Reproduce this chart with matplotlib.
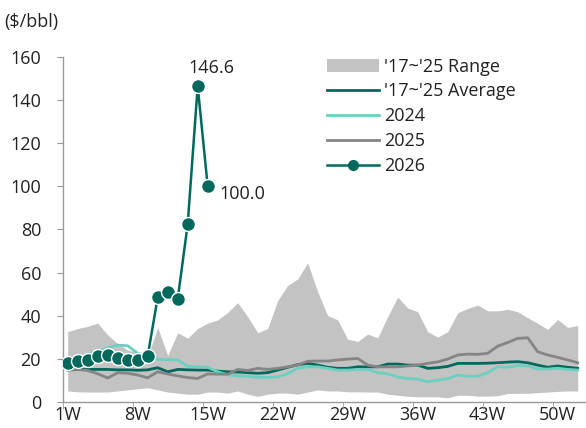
import numpy as np
import matplotlib.pyplot as plt
from matplotlib.lines import Line2D
from matplotlib.patches import Patch

plt.rcParams['font.family'] = ['Open Sans', 'DejaVu Sans']

# --- Data (weekly, $/bbl) ---
weeks = np.arange(1, 53)
tick_weeks = [1, 8, 15, 22, 29, 36, 43, 50]
tick_labels = [f"{w}W" for w in tick_weeks]

range_hi = [32.5, 34, 35, 36.5, 31, 27, 24, 23, 21, 34.5,
            21.5, 32, 29.5, 34, 36.5, 38, 41.5, 46, 39.5, 32,
            34, 47, 54, 57, 64.5, 51, 40, 38, 29, 28,
            31.4, 29.7, 39.5, 48.6, 43.5, 41.8, 32.5, 30, 32.5, 41.3,
            43.3, 44.9, 42.2, 42.2, 42.9, 41.8, 39, 36.4, 33.6, 38.2,
            34.5, 35.4]
range_lo = [5, 4.6, 4.5, 4.5, 4.5, 5, 5.5, 6, 6.5, 5.5,
            4.5, 4, 3.5, 3.5, 4.5, 4.5, 4, 5, 3.5, 2.5,
            3.5, 4, 4, 3.5, 4.5, 5.5, 5, 5, 4.6, 4.6,
            4.5, 4.5, 3.5, 3, 2.5, 2.3, 2.3, 2.3, 1.8, 3,
            3, 2.6, 2.6, 2.8, 3.8, 3.9, 3.9, 4.2, 4.5, 4.8,
            5, 5]
avg_1725 = [14.7, 15, 15, 15, 15, 14.8, 14.8, 14.6, 14.8, 15.8,
            13.9, 15, 14.8, 14.7, 14.7, 14.2, 13.9, 13.8, 13.5, 13.2,
            13.5, 14.7, 16, 17.2, 17.8, 17, 16, 15.5, 15.5, 16.2,
            16.2, 16.2, 17.5, 17.5, 17, 17, 15.5, 15.8, 16.4, 17.8,
            17.8, 17.8, 17.9, 18.1, 18.4, 18.6, 18.1, 17, 16, 16.6,
            16, 15.5]
y2024 = [18, 20, 22, 23.5, 25, 26.3, 26, 22.5, 21, 19.7,
         19.5, 19.4, 16.5, 16.2, 16, 13.9, 12.5, 12, 11.8, 11.3,
         11.3, 11.5, 13, 15.5, 16.2, 16.2, 15.5, 14.7, 14.7, 15,
         15, 13.5, 13, 11.5, 10.8, 10.5, 9.3, 10, 10.7, 12.4,
         11.8, 11.8, 13.5, 16.2, 16, 16.8, 16.6, 15.2, 15.2, 15.5,
         15, 14.7]
y2025 = [15, 15, 14.5, 13, 11, 13.5, 13.2, 12.4, 11.1, 13.9,
         12.9, 12, 11.2, 10.8, 12.9, 12.8, 12.8, 15, 14.5, 15.5,
         15, 15.5, 16.2, 17, 18.8, 18.9, 18.9, 19.4, 19.8, 20.1,
         17, 16.2, 16.2, 16.2, 16.6, 17, 17.8, 18.5, 19.8, 21.7,
         22.1, 22, 22.5, 25.8, 27.5, 29.4, 29.7, 23.2, 21.7, 20.6,
         19.4, 18.1]
y2026 = [18.1, 19.0, 19.2, 21.2, 21.7, 20.4, 19.4, 19.4, 21.2, 48.4,
         51.0, 47.6, 82.4, 146.6, 100.0]

c_dark = "#00695C"
c_teal = "#6CCFC0"
c_gray = "#858585"
c_range = "#C3C3C3"
c_text = "#222222"
fs = 13

fig = plt.figure(figsize=(5.86, 4.28), dpi=100)
ax = fig.add_axes([0.108, 0.0614, 0.892, 0.805])

ax.fill_between(weeks, range_lo, range_hi, color=c_range, lw=0, zorder=1)
ax.plot(weeks, avg_1725, color=c_dark, lw=2.0, zorder=2)
ax.plot(weeks, y2024, color=c_teal, lw=2.0, zorder=3)
ax.plot(weeks, y2025, color=c_gray, lw=2.0, zorder=4)
w26 = weeks[:len(y2026)]
ax.plot(w26, y2026, color=c_dark, lw=1.8, marker="o", markersize=10,
        markerfacecolor=c_dark, markeredgecolor="white", markeredgewidth=1.0,
        zorder=5)

ax.annotate("146.6", (w26[13], y2026[13]), xytext=(14, 18),
            textcoords="offset pixels", ha="center", va="center",
            fontsize=fs, color=c_text)
ax.annotate("100.0", (w26[14], y2026[14]), xytext=(12, -8),
            textcoords="offset pixels", ha="left", va="center",
            fontsize=fs, color=c_text)

# --- Axes styling ---
ax.set_xlim(0.56, 52.83)
ax.set_ylim(0, 160)
ax.set_yticks(np.arange(0, 161, 20))
ax.set_xticks(tick_weeks)
ax.set_xticklabels(tick_labels)
ax.set_xticks([0.56] + [7 * k + 0.5 for k in range(1, 8)], minor=True)
ax.tick_params(axis="x", which="major", length=0, pad=3, labelsize=fs, colors=c_text)
ax.tick_params(axis="x", which="minor", length=5, color="#999999")
ax.tick_params(axis="y", length=4, pad=12, labelsize=fs, colors=c_text, color="#999999")
for side in ("top", "right"):
    ax.spines[side].set_visible(False)
for side in ("left", "bottom"):
    ax.spines[side].set_color("#999999")
    ax.spines[side].set_linewidth(1.0)

fig.text(0.008, 0.948, "($/bbl)", fontsize=fs, color=c_text, ha="left", va="center")

handles = [
    Patch(facecolor=c_range, edgecolor="none"),
    Line2D([], [], color=c_dark, lw=2.0),
    Line2D([], [], color=c_teal, lw=2.0),
    Line2D([], [], color=c_gray, lw=2.0),
    Line2D([], [], color=c_dark, lw=1.8, marker="o", markersize=7,
           markerfacecolor=c_dark, markeredgecolor=c_dark),
]
labels = ["'17~'25 Range", "'17~'25 Average", "2024", "2025", "2026"]
ax.legend(handles, labels, loc="upper left", bbox_to_anchor=(0.49, 1.02),
          frameon=False, fontsize=fs, handlelength=2.9, handletextpad=0.3,
          labelspacing=0.38, borderaxespad=0, labelcolor=c_text)

fig.savefig("out.png", dpi=100)
